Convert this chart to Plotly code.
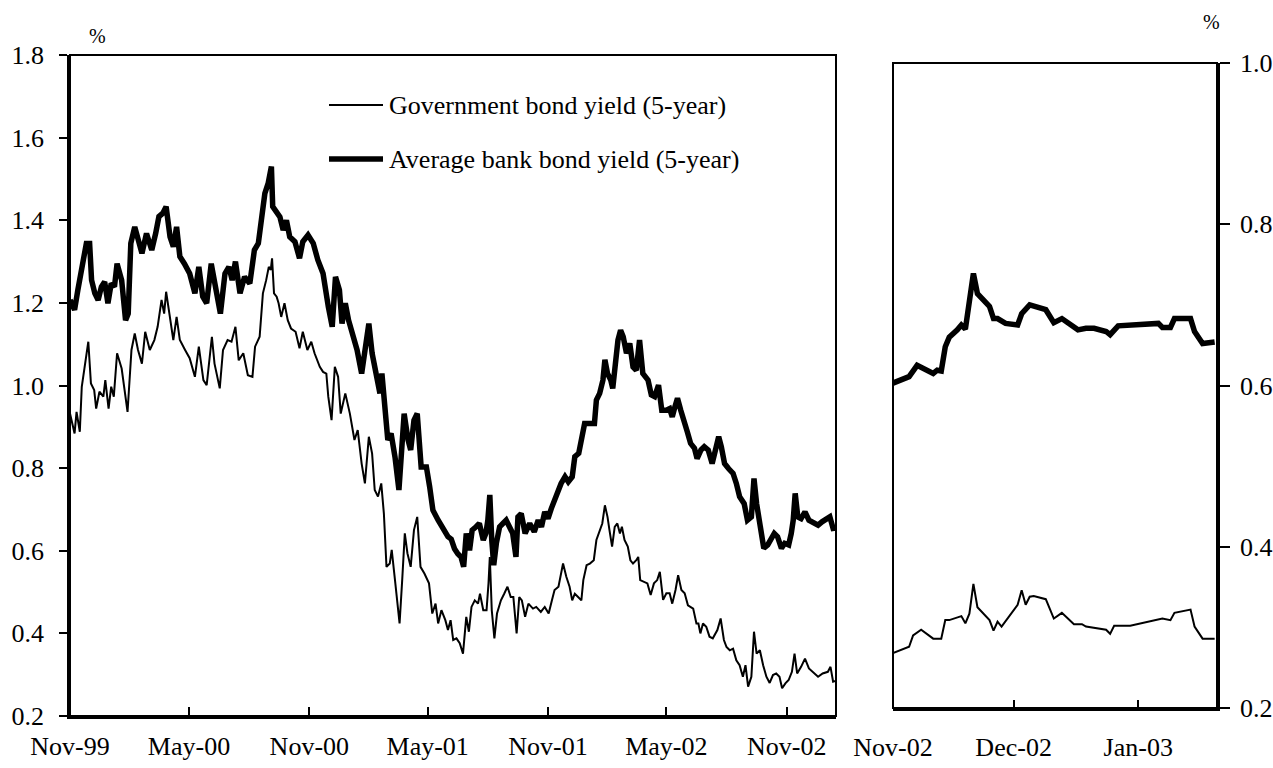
import plotly.graph_objects as go

# ---- Left panel: 5-year yields, Nov 1999 - Jan 2003 (%) ----
bank_dates = [
    "1999-11-01", "1999-11-08", "1999-11-13", "1999-11-18", "1999-11-26", "1999-12-01",
    "1999-12-04", "1999-12-09", "1999-12-14", "1999-12-19", "1999-12-24", "1999-12-29",
    "2000-01-03", "2000-01-08", "2000-01-12", "2000-01-19", "2000-01-25", "2000-01-29",
    "2000-02-02", "2000-02-08", "2000-02-13", "2000-02-19", "2000-02-26", "2000-03-05",
    "2000-03-11", "2000-03-16", "2000-03-22", "2000-03-27", "2000-04-02", "2000-04-07",
    "2000-04-12", "2000-04-17", "2000-04-24", "2000-05-02", "2000-05-10", "2000-05-16",
    "2000-05-22", "2000-05-28", "2000-06-04", "2000-06-12", "2000-06-18", "2000-06-25",
    "2000-07-01", "2000-07-06", "2000-07-11", "2000-07-18", "2000-07-25", "2000-08-02",
    "2000-08-09", "2000-08-15", "2000-08-20", "2000-08-25", "2000-08-30", "2000-09-04",
    "2000-09-06", "2000-09-12", "2000-09-17", "2000-09-22", "2000-09-27", "2000-10-02",
    "2000-10-10", "2000-10-17", "2000-10-22", "2000-10-30", "2000-11-07", "2000-11-14",
    "2000-11-22", "2000-11-30", "2000-12-06", "2000-12-11", "2000-12-17", "2000-12-21",
    "2000-12-26", "2000-12-31", "2001-01-07", "2001-01-13", "2001-01-20", "2001-01-25",
    "2001-01-31", "2001-02-05", "2001-02-12", "2001-02-17", "2001-02-20", "2001-02-25",
    "2001-03-01", "2001-03-06", "2001-03-12", "2001-03-18", "2001-03-22", "2001-03-26",
    "2001-04-01", "2001-04-05", "2001-04-10", "2001-04-15", "2001-04-21", "2001-04-29",
    "2001-05-04", "2001-05-09", "2001-05-17", "2001-05-25", "2001-06-01", "2001-06-06",
    "2001-06-11", "2001-06-16", "2001-06-21", "2001-06-25", "2001-06-29", "2001-07-04",
    "2001-07-08", "2001-07-14", "2001-07-19", "2001-07-25", "2001-07-29", "2001-08-01",
    "2001-08-04", "2001-08-07", "2001-08-10", "2001-08-14", "2001-08-19", "2001-08-24",
    "2001-08-29", "2001-09-03", "2001-09-08", "2001-09-13", "2001-09-16", "2001-09-21",
    "2001-09-27", "2001-10-04", "2001-10-11", "2001-10-17", "2001-10-22", "2001-10-27",
    "2001-11-01", "2001-11-06", "2001-11-11", "2001-11-16", "2001-11-21", "2001-11-27",
    "2001-12-02", "2001-12-08", "2001-12-12", "2001-12-18", "2001-12-22", "2001-12-27",
    "2002-01-04", "2002-01-11", "2002-01-14", "2002-01-19", "2002-01-24", "2002-01-27",
    "2002-01-31", "2002-02-05", "2002-02-08", "2002-02-12", "2002-02-16", "2002-02-20",
    "2002-02-24", "2002-03-01", "2002-03-06", "2002-03-11", "2002-03-16", "2002-03-21",
    "2002-03-26", "2002-04-03", "2002-04-08", "2002-04-13", "2002-04-19", "2002-04-24",
    "2002-05-01", "2002-05-06", "2002-05-10", "2002-05-14", "2002-05-18", "2002-05-23",
    "2002-05-28", "2002-06-02", "2002-06-07", "2002-06-13", "2002-06-17", "2002-06-23",
    "2002-06-28", "2002-07-04", "2002-07-10", "2002-07-15", "2002-07-20", "2002-07-24",
    "2002-07-29", "2002-08-04", "2002-08-11", "2002-08-16", "2002-08-21", "2002-08-28",
    "2002-09-02", "2002-09-08", "2002-09-12", "2002-09-16", "2002-09-19", "2002-09-23",
    "2002-09-27", "2002-10-03", "2002-10-08", "2002-10-13", "2002-10-18", "2002-10-24",
    "2002-10-29", "2002-11-04", "2002-11-08", "2002-11-11", "2002-11-14", "2002-11-18",
    "2002-11-23", "2002-11-29", "2002-12-05", "2002-12-11", "2002-12-19", "2002-12-25",
    "2003-01-01", "2003-01-06", "2003-01-11", "2003-01-15",
]
bank_yield = [
    1.207, 1.183, 1.231, 1.279, 1.344, 1.344,
    1.255, 1.223, 1.207, 1.239, 1.251, 1.199,
    1.247, 1.239, 1.295, 1.255, 1.158, 1.174,
    1.344, 1.384, 1.352, 1.320, 1.368, 1.328,
    1.368, 1.409, 1.417, 1.433, 1.360, 1.336,
    1.384, 1.312, 1.295, 1.271, 1.223, 1.287,
    1.215, 1.199, 1.295, 1.223, 1.174, 1.271,
    1.287, 1.255, 1.300, 1.223, 1.263, 1.247,
    1.328, 1.344, 1.417, 1.465, 1.489, 1.530,
    1.433, 1.420, 1.408, 1.376, 1.400, 1.360,
    1.348, 1.308, 1.348, 1.364, 1.344, 1.304,
    1.271, 1.191, 1.142, 1.263, 1.231, 1.150,
    1.199, 1.158, 1.118, 1.086, 1.029, 1.094,
    1.150, 1.078, 1.013, 0.981, 1.029, 0.932,
    0.868, 0.884, 0.827, 0.747, 0.835, 0.932,
    0.868, 0.844, 0.916, 0.932, 0.803, 0.803,
    0.755, 0.698, 0.674, 0.650, 0.634, 0.628,
    0.605, 0.593, 0.585, 0.561, 0.642, 0.601,
    0.650, 0.658, 0.666, 0.626, 0.642, 0.674,
    0.735, 0.626, 0.565, 0.618, 0.658, 0.666,
    0.674, 0.658, 0.642, 0.585, 0.682, 0.690,
    0.642, 0.666, 0.646, 0.674, 0.658, 0.694,
    0.678, 0.702, 0.723, 0.735, 0.763, 0.779,
    0.767, 0.779, 0.828, 0.836, 0.876, 0.908,
    0.908, 0.908, 0.965, 0.981, 1.013, 1.062,
    1.029, 1.013, 0.993, 1.070, 1.110, 1.134,
    1.118, 1.078, 1.102, 1.045, 1.037, 1.110,
    1.029, 1.013, 0.977, 0.973, 1.001, 0.940,
    0.940, 0.944, 0.924, 0.948, 0.969, 0.940,
    0.908, 0.888, 0.860, 0.848, 0.823, 0.844,
    0.852, 0.844, 0.811, 0.840, 0.876, 0.852,
    0.811, 0.799, 0.787, 0.763, 0.731, 0.714,
    0.674, 0.682, 0.775, 0.714, 0.682, 0.634,
    0.606, 0.614, 0.626, 0.642, 0.634, 0.606,
    0.618, 0.614, 0.642, 0.674, 0.739, 0.682,
    0.678, 0.694, 0.674, 0.670, 0.662, 0.670,
    0.678, 0.682, 0.654, 0.655,
]

gov_dates = [
    "1999-11-01", "1999-11-08", "1999-11-11", "1999-11-16", "1999-11-19", "1999-11-23",
    "1999-11-29", "1999-12-03", "1999-12-08", "1999-12-11", "1999-12-16", "1999-12-22",
    "1999-12-25", "1999-12-30", "2000-01-03", "2000-01-07", "2000-01-12", "2000-01-19",
    "2000-01-24", "2000-01-28", "2000-02-03", "2000-02-08", "2000-02-13", "2000-02-19",
    "2000-02-24", "2000-03-02", "2000-03-09", "2000-03-14", "2000-03-20", "2000-03-24",
    "2000-03-27", "2000-04-02", "2000-04-07", "2000-04-12", "2000-04-17", "2000-04-25",
    "2000-05-02", "2000-05-10", "2000-05-16", "2000-05-23", "2000-05-28", "2000-06-05",
    "2000-06-09", "2000-06-17", "2000-06-22", "2000-06-29", "2000-07-05", "2000-07-11",
    "2000-07-16", "2000-07-23", "2000-07-30", "2000-08-06", "2000-08-10", "2000-08-17",
    "2000-08-22", "2000-08-27", "2000-08-31", "2000-09-03", "2000-09-05", "2000-09-08",
    "2000-09-12", "2000-09-15", "2000-09-19", "2000-09-24", "2000-09-29", "2000-10-04",
    "2000-10-11", "2000-10-17", "2000-10-22", "2000-10-29", "2000-11-04", "2000-11-09",
    "2000-11-17", "2000-11-22", "2000-11-27", "2000-11-30", "2000-12-05", "2000-12-10",
    "2000-12-15", "2000-12-19", "2000-12-26", "2001-01-02", "2001-01-09", "2001-01-14",
    "2001-01-20", "2001-01-25", "2001-01-31", "2001-02-05", "2001-02-09", "2001-02-14",
    "2001-02-19", "2001-02-23", "2001-02-27", "2001-03-04", "2001-03-07", "2001-03-12",
    "2001-03-16", "2001-03-19", "2001-03-23", "2001-03-27", "2001-03-31", "2001-04-05",
    "2001-04-10", "2001-04-15", "2001-04-20", "2001-04-26", "2001-05-03", "2001-05-08",
    "2001-05-13", "2001-05-17", "2001-05-22", "2001-05-28", "2001-06-01", "2001-06-05",
    "2001-06-09", "2001-06-14", "2001-06-19", "2001-06-24", "2001-06-29", "2001-07-03",
    "2001-07-07", "2001-07-12", "2001-07-17", "2001-07-20", "2001-07-25", "2001-07-30",
    "2001-08-02", "2001-08-04", "2001-08-07", "2001-08-11", "2001-08-15", "2001-08-21",
    "2001-08-26", "2001-08-31", "2001-09-05", "2001-09-09", "2001-09-14", "2001-09-18",
    "2001-09-22", "2001-09-27", "2001-10-02", "2001-10-09", "2001-10-14", "2001-10-21",
    "2001-10-27", "2001-11-02", "2001-11-07", "2001-11-11", "2001-11-17", "2001-11-21",
    "2001-11-24", "2001-11-29", "2001-12-04", "2001-12-08", "2001-12-12", "2001-12-17",
    "2001-12-22", "2001-12-25", "2001-12-30", "2002-01-04", "2002-01-10", "2002-01-14",
    "2002-01-19", "2002-01-23", "2002-01-27", "2002-01-31", "2002-02-03", "2002-02-07",
    "2002-02-11", "2002-02-15", "2002-02-19", "2002-02-22", "2002-02-26", "2002-03-03",
    "2002-03-07", "2002-03-11", "2002-03-16", "2002-03-19", "2002-03-22", "2002-03-28",
    "2002-04-02", "2002-04-07", "2002-04-12", "2002-04-17", "2002-04-21", "2002-04-26",
    "2002-05-01", "2002-05-06", "2002-05-10", "2002-05-15", "2002-05-19", "2002-05-24",
    "2002-05-29", "2002-06-03", "2002-06-11", "2002-06-16", "2002-06-19", "2002-06-22",
    "2002-06-26", "2002-07-01", "2002-07-06", "2002-07-11", "2002-07-18", "2002-07-23",
    "2002-07-28", "2002-08-01", "2002-08-06", "2002-08-11", "2002-08-16", "2002-08-21",
    "2002-08-26", "2002-08-30", "2002-09-03", "2002-09-08", "2002-09-12", "2002-09-16",
    "2002-09-21", "2002-09-26", "2002-10-01", "2002-10-06", "2002-10-11", "2002-10-16",
    "2002-10-21", "2002-10-25", "2002-10-30", "2002-11-04", "2002-11-09", "2002-11-13",
    "2002-11-17", "2002-11-23", "2002-11-29", "2002-12-05", "2002-12-11", "2002-12-19",
    "2002-12-26", "2003-01-03", "2003-01-07", "2003-01-11", "2003-01-15",
]
gov_yield = [
    0.932, 0.884, 0.936, 0.888, 0.997, 1.045,
    1.106, 1.005, 0.989, 0.944, 0.985, 0.973,
    1.013, 0.944, 0.997, 0.973, 1.078, 1.041,
    0.981, 0.936, 1.086, 1.126, 1.086, 1.053,
    1.130, 1.086, 1.110, 1.142, 1.207, 1.174,
    1.227, 1.158, 1.110, 1.166, 1.110, 1.086,
    1.066, 1.021, 1.094, 1.013, 1.001, 1.118,
    1.053, 0.993, 1.086, 1.110, 1.106, 1.142,
    1.061, 1.078, 1.025, 1.021, 1.094, 1.118,
    1.223, 1.255, 1.287, 1.280, 1.308, 1.223,
    1.215, 1.199, 1.166, 1.199, 1.158, 1.138,
    1.130, 1.090, 1.130, 1.086, 1.106, 1.078,
    1.045, 1.033, 1.029, 0.973, 0.916, 1.045,
    1.021, 0.932, 0.981, 0.932, 0.868, 0.892,
    0.811, 0.763, 0.876, 0.835, 0.747, 0.731,
    0.763, 0.690, 0.561, 0.569, 0.602, 0.529,
    0.472, 0.424, 0.529, 0.642, 0.594, 0.561,
    0.650, 0.682, 0.561, 0.545, 0.521, 0.448,
    0.472, 0.424, 0.456, 0.432, 0.408, 0.432,
    0.384, 0.388, 0.376, 0.351, 0.440, 0.404,
    0.464, 0.480, 0.472, 0.496, 0.456, 0.456,
    0.521, 0.585, 0.456, 0.388, 0.448, 0.480,
    0.496, 0.513, 0.488, 0.488, 0.400, 0.488,
    0.480, 0.440, 0.472, 0.460, 0.464, 0.452,
    0.464, 0.448, 0.480, 0.505, 0.513, 0.545,
    0.569, 0.537, 0.513, 0.480, 0.496, 0.488,
    0.480, 0.529, 0.565, 0.569, 0.577, 0.626,
    0.650, 0.666, 0.710, 0.682, 0.650, 0.610,
    0.658, 0.666, 0.642, 0.658, 0.626, 0.610,
    0.577, 0.569, 0.577, 0.585, 0.529, 0.525,
    0.521, 0.493, 0.521, 0.529, 0.549, 0.481,
    0.497, 0.497, 0.472, 0.505, 0.541, 0.505,
    0.497, 0.468, 0.460, 0.424, 0.424, 0.400,
    0.424, 0.416, 0.392, 0.388, 0.408, 0.436,
    0.384, 0.367, 0.359, 0.363, 0.335, 0.323,
    0.295, 0.323, 0.271, 0.295, 0.404, 0.351,
    0.359, 0.323, 0.295, 0.280, 0.299, 0.303,
    0.295, 0.267, 0.279, 0.287, 0.307, 0.351,
    0.303, 0.319, 0.339, 0.315, 0.307, 0.295,
    0.303, 0.307, 0.319, 0.283, 0.285,
]

# ---- Right panel: close-up, Nov 2002 - Jan 2003 (%) ----
bank_recent_dates = [
    "2002-11-01", "2002-11-05", "2002-11-07", "2002-11-11", "2002-11-12", "2002-11-13",
    "2002-11-14", "2002-11-15", "2002-11-17", "2002-11-18", "2002-11-19", "2002-11-21",
    "2002-11-22", "2002-11-25", "2002-11-26", "2002-11-27", "2002-11-29", "2002-12-02",
    "2002-12-03", "2002-12-05", "2002-12-09", "2002-12-11", "2002-12-13", "2002-12-17",
    "2002-12-19", "2002-12-21", "2002-12-24", "2002-12-25", "2002-12-27", "2003-01-06",
    "2003-01-07", "2003-01-09", "2003-01-10", "2003-01-14", "2003-01-15", "2003-01-17",
    "2003-01-20",
]
bank_recent = [
    0.603, 0.611, 0.625, 0.615, 0.619, 0.618,
    0.648, 0.660, 0.669, 0.675, 0.670, 0.739,
    0.714, 0.698, 0.683, 0.683, 0.677, 0.675,
    0.689, 0.700, 0.694, 0.678, 0.683, 0.669,
    0.671, 0.671, 0.667, 0.663, 0.674, 0.677,
    0.672, 0.672, 0.683, 0.683, 0.667, 0.652,
    0.654,
]

gov_recent_dates = [
    "2002-11-01", "2002-11-05", "2002-11-06", "2002-11-08", "2002-11-11", "2002-11-13",
    "2002-11-14", "2002-11-15", "2002-11-18", "2002-11-19", "2002-11-20", "2002-11-21",
    "2002-11-22", "2002-11-25", "2002-11-26", "2002-11-27", "2002-11-28", "2002-12-02",
    "2002-12-03", "2002-12-04", "2002-12-05", "2002-12-06", "2002-12-09", "2002-12-11",
    "2002-12-13", "2002-12-16", "2002-12-18", "2002-12-19", "2002-12-24", "2002-12-25",
    "2002-12-26", "2002-12-30", "2003-01-07", "2003-01-09", "2003-01-10", "2003-01-14",
    "2003-01-15", "2003-01-17", "2003-01-20",
]
gov_recent = [
    0.268, 0.276, 0.290, 0.297, 0.286, 0.286,
    0.309, 0.309, 0.314, 0.305, 0.317, 0.354,
    0.325, 0.309, 0.296, 0.307, 0.301, 0.328,
    0.346, 0.328, 0.338, 0.339, 0.335, 0.311,
    0.318, 0.304, 0.304, 0.301, 0.297, 0.292,
    0.302, 0.302, 0.311, 0.309, 0.318, 0.322,
    0.301, 0.286, 0.286,
]

# ---- Axis ticks ----
left_xticks = ["1999-11-01", "2000-05-01", "2000-11-01", "2001-05-01",
               "2001-11-01", "2002-05-01", "2002-11-01"]
left_xlabels = ["Nov-99", "May-00", "Nov-00", "May-01", "Nov-01", "May-02", "Nov-02"]
left_yticks = [0.2, 0.4, 0.6, 0.8, 1.0, 1.2, 1.4, 1.6, 1.8]
right_xticks = ["2002-11-01", "2002-12-01", "2003-01-01"]
right_xlabels = ["Nov-02", "Dec-02", "Jan-03"]
right_yticks = [0.2, 0.4, 0.6, 0.8, 1.0]

GOV_NAME = "Government bond yield (5-year)"
BANK_NAME = "Average bank bond yield (5-year)"
FONT = "Liberation Serif"
THIN, THICK = 2, 5.5

W, H = 1273, 768


def px_x(p):
    return p / W


def px_y(p):
    return 1 - p / H


fig = go.Figure()
fig.add_trace(go.Scatter(x=gov_dates, y=gov_yield, mode="lines", name=GOV_NAME,
                         line=dict(color="black", width=THIN), xaxis="x", yaxis="y"))
fig.add_trace(go.Scatter(x=bank_dates, y=bank_yield, mode="lines", name=BANK_NAME,
                         line=dict(color="black", width=THICK), xaxis="x", yaxis="y"))
fig.add_trace(go.Scatter(x=gov_recent_dates, y=gov_recent, mode="lines", name=GOV_NAME,
                         line=dict(color="black", width=THIN), xaxis="x2", yaxis="y2"))
fig.add_trace(go.Scatter(x=bank_recent_dates, y=bank_recent, mode="lines", name=BANK_NAME,
                         line=dict(color="black", width=THICK), xaxis="x2", yaxis="y2"))

tickfont = dict(family=FONT, size=26, color="black")
axis_common = dict(showgrid=False, zeroline=False, showline=True, linecolor="black",
                   linewidth=2.5, tickcolor="black", tickwidth=2, tickfont=tickfont,
                   automargin=False)

fig.update_layout(
    width=W, height=H,
    margin=dict(l=0, r=0, t=0, b=0),
    paper_bgcolor="white", plot_bgcolor="white",
    showlegend=False,
    font=dict(family=FONT, color="black"),
    xaxis=dict(domain=[px_x(70), px_x(836)], anchor="y", type="date",
               range=["1999-11-01", "2003-01-15 10:00"],
               tickvals=left_xticks, ticktext=left_xlabels,
               ticks="inside", ticklen=9, ticklabelstandoff=5, **axis_common),
    yaxis=dict(domain=[px_y(716), px_y(55)], anchor="x", range=[0.2, 1.8],
               tickvals=left_yticks, tickformat=".1f",
               ticks="outside", ticklen=8, ticklabelstandoff=10, **axis_common),
    xaxis2=dict(domain=[px_x(893), px_x(1217)], anchor="y2", type="date",
                range=["2002-11-01", "2003-01-20 14:00"],
                tickvals=right_xticks, ticktext=right_xlabels,
                ticks="inside", ticklen=8, ticklabelstandoff=14, **axis_common),
    yaxis2=dict(domain=[px_y(708), px_y(63)], anchor="x2", side="right", range=[0.2, 1.0],
                tickvals=right_yticks, tickformat=".1f",
                ticks="outside", ticklen=10, ticklabelstandoff=5, **axis_common),
)

# Thin frames around both plotting areas
for xr, yr in (("x domain", "y domain"), ("x2 domain", "y2 domain")):
    fig.add_shape(type="rect", xref=xr, yref=yr, x0=0, x1=1, y0=0, y1=1,
                  line=dict(color="black", width=2), layer="above")

# Legend drawn inside the left panel
legend_rows = [(GOV_NAME, THIN, 105), (BANK_NAME, THICK, 159)]
for label, width, ypx in legend_rows:
    fig.add_shape(type="line", xref="paper", yref="paper",
                  x0=px_x(329), x1=px_x(383), y0=px_y(ypx), y1=px_y(ypx),
                  line=dict(color="black", width=width))
    fig.add_annotation(text=label, xref="paper", yref="paper",
                       x=px_x(387), y=px_y(ypx), xanchor="left", yanchor="middle",
                       showarrow=False, font=dict(family=FONT, size=26, color="black"))

# Unit labels
for xpx, ypx in ((97, 36), (1211, 22)):
    fig.add_annotation(text="%", xref="paper", yref="paper", x=px_x(xpx), y=px_y(ypx),
                       xanchor="center", yanchor="middle", showarrow=False,
                       font=dict(family=FONT, size=20, color="black"))

fig.write_html("out.html")
